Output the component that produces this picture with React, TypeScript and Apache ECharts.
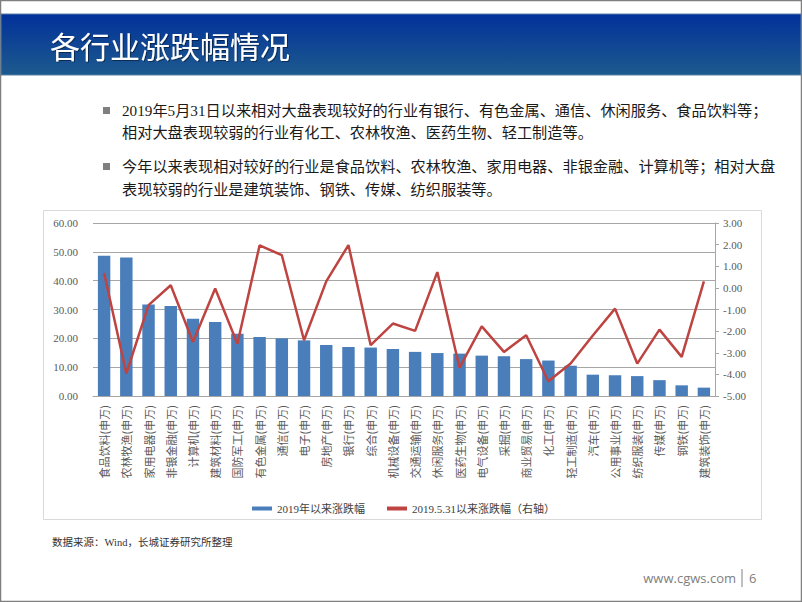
import React, { useEffect, useRef } from "react";
import * as echarts from "echarts";

const categories = [
  "食品饮料(申万)", "农林牧渔(申万)", "家用电器(申万)", "非银金融(申万)", "计算机(申万)",
  "建筑材料(申万)", "国防军工(申万)", "有色金属(申万)", "通信(申万)", "电子(申万)",
  "房地产(申万)", "银行(申万)", "综合(申万)", "机械设备(申万)", "交通运输(申万)",
  "休闲服务(申万)", "医药生物(申万)", "电气设备(申万)", "采掘(申万)", "商业贸易(申万)",
  "化工(申万)", "轻工制造(申万)", "汽车(申万)", "公用事业(申万)", "纺织服装(申万)",
  "传媒(申万)", "钢铁(申万)", "建筑装饰(申万)",
];

const ytdChange = [
  48.6, 48.0, 31.7, 31.2, 26.8, 25.7, 21.6, 20.5, 20.0, 19.3,
  17.7, 17.0, 16.8, 16.3, 15.3, 14.9, 14.7, 14.0, 13.8, 12.8,
  12.3, 10.5, 7.4, 7.2, 6.9, 5.5, 3.7, 2.9,
];

const sinceMay31 = [
  0.69, -3.96, -0.8, 0.12, -2.5, -0.03, -2.58, 1.97, 1.51, -2.42,
  0.3, 1.98, -2.65, -1.65, -1.99, 0.73, -3.69, -1.78, -2.96, -2.19,
  -4.32, -3.5, -2.2, -0.96, -3.5, -1.93, -3.19, 0.3,
];

const seriesNames = ["2019年以来涨跌幅", "2019.5.31以来涨跌幅（右轴）"];

const titleText = "各行业涨跌幅情况";
const bulletLines = [
  "2019年5月31日以来相对大盘表现较好的行业有银行、有色金属、通信、休闲服务、食品饮料等；",
  "相对大盘表现较弱的行业有化工、农林牧渔、医药生物、轻工制造等。",
  "今年以来表现相对较好的行业是食品饮料、农林牧渔、家用电器、非银金融、计算机等；相对大盘",
  "表现较弱的行业是建筑装饰、钢铁、传媒、纺织服装等。",
];
const sourceText = "数据来源：Wind，长城证券研究所整理";
const siteText = "www.cgws.com";
const pageText = "6";

const SERIF = "'Liberation Serif', 'Noto Sans CJK SC', serif";
const CJK = "'Noto Sans CJK SC', sans-serif";

export default function App() {
  const ref = useRef<HTMLDivElement>(null);

  useEffect(() => {
    if (!ref.current) return;
    const chart = echarts.init(ref.current, null, { renderer: "svg" });
    const lineYs = [110, 132, 166, 189];
    const option: any = {
      animation: false,
      backgroundColor: "#ffffff",
      graphic: [
        {
          type: "rect",
          shape: { x: 0.5, y: 0.5, width: 801, height: 601 },
          style: { fill: "none", stroke: "#7f7f7f", lineWidth: 1.5 },
          silent: true,
        },
        {
          type: "rect",
          shape: { x: 1, y: 14, width: 800, height: 61 },
          style: {
            fill: new echarts.graphic.LinearGradient(0, 0, 0, 1, [
              { offset: 0, color: "#02319a" },
              { offset: 1, color: "#1d5a8d" },
            ]),
            stroke: "#5a7fa3",
            lineWidth: 1,
          },
          silent: true,
        },
        {
          type: "text",
          x: 50,
          y: 45,
          style: {
            text: titleText,
            fill: "#ffffff",
            fontSize: 30,
            fontFamily: CJK,
            verticalAlign: "middle",
            textShadowColor: "rgba(0,0,0,0.45)",
            textShadowOffsetX: 1,
            textShadowOffsetY: 1,
            textShadowBlur: 1,
          },
        },
        {
          type: "rect",
          shape: { x: 103, y: 107, width: 7, height: 7 },
          style: { fill: "#7f7f7f" },
        },
        {
          type: "rect",
          shape: { x: 103, y: 163, width: 7, height: 7 },
          style: { fill: "#7f7f7f" },
        },
        ...bulletLines.map((t, i) => ({
          type: "text",
          x: 122,
          y: lineYs[i],
          style: {
            text: t,
            fill: "#1a1a1a",
            fontSize: 15.2,
            fontFamily: SERIF,
            verticalAlign: "middle",
          },
        })),
        {
          type: "rect",
          z: -1,
          shape: { x: 43.5, y: 210.5, width: 718, height: 309 },
          style: { fill: "none", stroke: "#d9d9d9", lineWidth: 1 },
          silent: true,
        },
        {
          type: "text",
          x: 52,
          y: 542,
          style: {
            text: sourceText,
            fill: "#333333",
            fontSize: 10.5,
            fontFamily: SERIF,
            verticalAlign: "middle",
          },
        },
        {
          type: "text",
          x: 736,
          y: 578,
          style: {
            text: siteText,
            fill: "#808080",
            fontSize: 13,
            fontFamily: "'Open Sans', sans-serif",
            verticalAlign: "middle",
            align: "right",
          },
        },
        {
          type: "line",
          shape: { x1: 742, y1: 569, x2: 742, y2: 587 },
          style: { stroke: "#808080", lineWidth: 1 },
        },
        {
          type: "text",
          x: 749,
          y: 578,
          style: {
            text: pageText,
            fill: "#808080",
            fontSize: 13,
            fontFamily: "'Open Sans', sans-serif",
            verticalAlign: "middle",
          },
        },
      ],
      legend: {
        top: 498,
        left: 247,
        itemWidth: 20,
        itemHeight: 4,
        itemGap: 22,
        data: [
          { name: seriesNames[0], icon: "rect" },
          { name: seriesNames[1], icon: "rect", itemStyle: { color: "#be4441" } },
        ],
        textStyle: { fontSize: 11, fontFamily: SERIF, color: "#404040" },
      },
      grid: { left: 93, right: 87, top: 223, bottom: 206, containLabel: false },
      xAxis: {
        type: "category",
        data: categories,
        axisLine: { lineStyle: { color: "#a6a6a6", width: 1 } },
        axisTick: { show: false },
        axisLabel: {
          interval: 0,
          rotate: 90,
          margin: 9,
          fontSize: 11,
          fontFamily: CJK,
          color: "#595959",
        },
      },
      yAxis: [
        {
          type: "value",
          min: 0,
          max: 60,
          interval: 10,
          position: "left",
          axisLine: { show: false },
          axisTick: { show: false },
          splitLine: { lineStyle: { color: "#a6a6a6", width: 1 } },
          axisLabel: {
            formatter: (v: number) => v.toFixed(2),
            margin: 15,
            fontSize: 11,
            fontFamily: SERIF,
            color: "#595959",
          },
        },
        {
          type: "value",
          min: -5,
          max: 3,
          interval: 1,
          position: "right",
          axisLine: { show: true, lineStyle: { color: "#a6a6a6", width: 1 } },
          axisTick: { show: true, length: 4, inside: false, lineStyle: { color: "#a6a6a6" } },
          splitLine: { show: false },
          axisLabel: {
            formatter: (v: number) => v.toFixed(2),
            margin: 8,
            fontSize: 11,
            fontFamily: SERIF,
            color: "#595959",
          },
        },
      ],
      series: [
        {
          name: seriesNames[0],
          type: "bar",
          data: ytdChange,
          yAxisIndex: 0,
          barWidth: "56%",
          itemStyle: { color: "#4a7ebb" },
        },
        {
          name: seriesNames[1],
          type: "line",
          data: sinceMay31,
          yAxisIndex: 1,
          symbol: "none",
          lineStyle: { color: "#be4441", width: 2.5 },
          itemStyle: { color: "#be4441" },
        },
      ],
    };
    chart.setOption(option);
    return () => chart.dispose();
  }, []);

  return (
    <div
      ref={ref}
      style={{ position: "fixed", left: 0, top: 0, width: 802, height: 602 }}
    />
  );
}
